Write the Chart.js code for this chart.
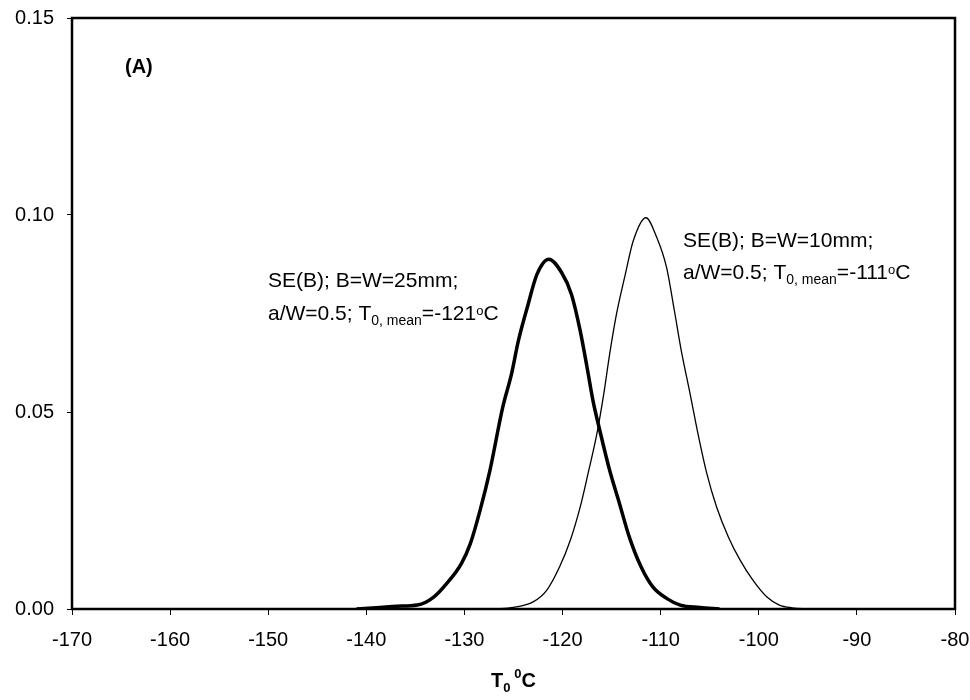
<!DOCTYPE html>
<html>
<head>
<meta charset="utf-8">
<script src="https://cdn.jsdelivr.net/npm/chart.js@4/dist/chart.umd.min.js"></script>
<style>
  body { margin: 0; background: #fff; }
  canvas { display: block; }
</style>
</head>
<body>
<canvas id="chart" width="970" height="700"></canvas>
<script>
const FONT = '"Liberation Sans", Arial, sans-serif';

// SE(B) B=W=25mm, T0 mean = -121 C (thick line)
const temp25 = [-141, -138.6, -136.9, -134.8, -133.1, -131.8, -130.3, -129.4, -128.4, -127.4, -126.1,
  -125.2, -124.5, -123.6, -122.6, -121.4, -120.1, -119.1, -118.2, -117.5, -116.9, -116.2, -115.2,
  -114.2, -113.2, -112.0, -110.8, -109.4, -108.0, -106, -104];
const prob25 = [0, 0.0004, 0.0007, 0.001, 0.0031, 0.0065, 0.0116, 0.0166, 0.0251, 0.0352, 0.0512,
  0.0597, 0.0681, 0.0765, 0.085, 0.0888, 0.0854, 0.0799, 0.0706, 0.0613, 0.0529, 0.0453, 0.0352,
  0.0268, 0.0183, 0.0107, 0.0056, 0.0027, 0.001, 0.0004, 0];

// SE(B) B=W=10mm, T0 mean = -111 C (thin line)
const temp10 = [-127, -125, -123, -121.6, -120.3, -119.2, -118.2, -117.4, -116.5, -115.8, -115.2, -114.5,
  -113.6, -112.8, -111.5, -110.4, -109.4, -108.6, -107.9, -107.0, -106.2, -105.3, -104.3, -103.1, -101.9,
  -100.6, -99.2, -97.9, -96.6, -95];
const prob10 = [0, 0.0004, 0.0018, 0.0048, 0.0107, 0.0175, 0.0259, 0.0344, 0.0445, 0.0546, 0.0647, 0.0749,
  0.085, 0.0934, 0.0993, 0.0943, 0.0867, 0.0757, 0.0656, 0.0546, 0.0445, 0.0344, 0.0259, 0.0183, 0.0124,
  0.0073, 0.0031, 0.001, 0.0003, 0];

const xTicks = [-170, -160, -150, -140, -130, -120, -110, -100, -90, -80];
const yTicks = [0, 0.05, 0.10, 0.15];

const toPoints = (xs, ys) => xs.map((x, i) => ({ x: x, y: ys[i] }));

// draw a line of text made of runs (normal / sub / superscript)
function drawRuns(ctx, x, y, runs, center) {
  let total = 0;
  runs.forEach(r => {
    ctx.font = (r.bold ? 'bold ' : '') + r.size + 'px ' + FONT;
    r.w = ctx.measureText(r.text).width;
    total += r.w;
  });
  if (center) x -= total / 2;
  runs.forEach(r => {
    ctx.font = (r.bold ? 'bold ' : '') + r.size + 'px ' + FONT;
    ctx.fillText(r.text, x, y + (r.dy || 0));
    x += r.w;
  });
}

const annotPlugin = {
  id: 'annot',
  afterDraw(chart) {
    const { ctx, chartArea: a } = chart;
    ctx.save();
    // frame
    ctx.strokeStyle = '#000';
    ctx.lineWidth = 2.5;
    ctx.strokeRect(a.left, a.top, a.right - a.left, a.bottom - a.top);

    ctx.fillStyle = '#000';
    ctx.textBaseline = 'alphabetic';
    ctx.textAlign = 'left';

    drawRuns(ctx, 125, 73, [{ text: '(A)', size: 20, bold: true }]);

    // thick curve label
    drawRuns(ctx, 268, 287, [{ text: 'SE(B); B=W=25mm;', size: 21 }]);
    drawRuns(ctx, 268, 320, [
      { text: 'a/W=0.5; T', size: 21 },
      { text: '0, mean', size: 14, dy: 5 },
      { text: '=-121', size: 21 },
      { text: 'o', size: 13, dy: -5 },
      { text: 'C', size: 21 }
    ]);

    // thin curve label
    drawRuns(ctx, 683, 247, [{ text: 'SE(B); B=W=10mm;', size: 21 }]);
    drawRuns(ctx, 683, 279, [
      { text: 'a/W=0.5; T', size: 21 },
      { text: '0, mean', size: 14, dy: 5 },
      { text: '=-111', size: 21 },
      { text: 'o', size: 13, dy: -5 },
      { text: 'C', size: 21 }
    ]);

    // x axis title
    drawRuns(ctx, (a.left + a.right) / 2, 687, [
      { text: 'T', size: 20, bold: true },
      { text: '0', size: 13, bold: true, dy: 5 },
      { text: ' ', size: 14, bold: true },
      { text: '0', size: 13, bold: true, dy: -9 },
      { text: 'C', size: 20, bold: true }
    ], true);
    ctx.restore();
  }
};

new Chart(document.getElementById('chart'), {
  type: 'scatter',
  data: {
    datasets: [
      {
        label: 'B=W=25mm',
        data: toPoints(temp25, prob25),
        showLine: true,
        borderColor: '#000',
        borderWidth: 3.5,
        pointRadius: 0,
        cubicInterpolationMode: 'monotone'
      },
      {
        label: 'B=W=10mm',
        data: toPoints(temp10, prob10),
        showLine: true,
        borderColor: '#000',
        borderWidth: 1.3,
        pointRadius: 0,
        cubicInterpolationMode: 'monotone'
      }
    ]
  },
  options: {
    responsive: false,
    animation: false,
    layout: { padding: { left: 0, right: 15, top: 18, bottom: 0 } },
    plugins: {
      legend: { display: false },
      tooltip: { enabled: false }
    },
    scales: {
      x: {
        type: 'linear',
        min: xTicks[0],
        max: xTicks[xTicks.length - 1],
        afterBuildTicks: s => { s.ticks = xTicks.map(v => ({ value: v })); },
        afterFit: s => { s.height = 91; s.paddingLeft = 0; s.paddingRight = 0; },
        border: { display: false },
        grid: { drawOnChartArea: false, drawTicks: true, tickLength: 6, color: '#000', lineWidth: 1 },
        ticks: {
          color: '#000',
          font: { family: FONT, size: 20 },
          padding: 13,
          maxRotation: 0,
          autoSkip: false,
          callback: v => String(v)
        }
      },
      y: {
        min: yTicks[0],
        max: yTicks[yTicks.length - 1],
        afterBuildTicks: s => { s.ticks = yTicks.map(v => ({ value: v })); },
        afterFit: s => { s.width = 72; s.paddingTop = 0; s.paddingBottom = 0; },
        border: { display: false },
        grid: { drawOnChartArea: false, drawTicks: true, tickLength: 5, color: '#000', lineWidth: 1 },
        ticks: {
          color: '#000',
          font: { family: FONT, size: 20 },
          padding: 13,
          callback: v => v.toFixed(2)
        }
      }
    }
  },
  plugins: [annotPlugin]
});
</script>
</body>
</html>
